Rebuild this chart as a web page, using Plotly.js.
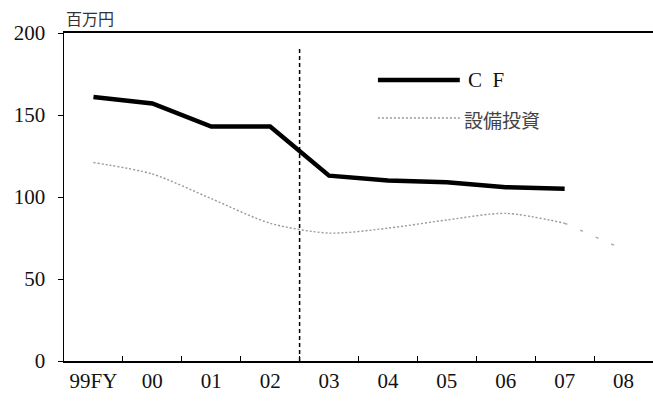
<!DOCTYPE html>
<html>
<head>
<meta charset="utf-8">
<script src="https://cdn.plot.ly/plotly-3.0.1.min.js"></script>
<style>html,body{margin:0;padding:0;background:#fff;}#chart{width:653px;height:403px;}</style>
</head>
<body>
<div id="chart"></div>
<script>
const categories = ["99FY", "00", "01", "02", "03", "04", "05", "06", "07", "08"];
const cfValues = [161, 157, 143, 143, 113, 110, 109, 106, 105, null];
const capexValues = [121, 114, 99, 84, 78, 81, 86, 90, 84, null];
const capexForecast = [null, null, null, null, null, null, null, null, 84, 68];
const yTicks = [0, 50, 100, 150, 200];
const unitLabel = "百万円";
const cfName = "C F";
const capexName = "設備投資";
const dividerAfter = "02";
const dividerTop = 191;

const serif = "Liberation Serif, DejaVu Serif, serif";
const cjk = "Noto Sans CJK JP, sans-serif";
const dividerX = categories.indexOf(dividerAfter) + 0.5;

const traces = [
  {x: categories, y: capexValues, type: "scatter", mode: "lines", name: capexName,
   line: {color: "#9a9a9a", width: 1.4, dash: "2px,2px", shape: "spline", smoothing: 0.8}, showlegend: false},
  {x: categories, y: capexForecast, type: "scatter", mode: "lines", name: capexName + "(予)",
   line: {color: "#a8a8a8", width: 1.4, dash: "3px,14px"}, showlegend: false},
  {x: categories, y: cfValues, type: "scatter", mode: "lines", name: cfName,
   line: {color: "#000", width: 4.5}, showlegend: false}
];

const layout = {
  width: 653, height: 403,
  margin: {l: 64, r: 0, t: 33, b: 42},
  paper_bgcolor: "#fff", plot_bgcolor: "#fff",
  showlegend: false,
  xaxis: {
    type: "category", range: [-0.5, 9.5], fixedrange: true,
    showline: true, linecolor: "#000", linewidth: 2, mirror: true,
    ticks: "inside", ticklen: 5, tickcolor: "#000", tickwidth: 1,
    tickson: "boundaries", showgrid: false, zeroline: false,
    tickfont: {family: serif, size: 21, color: "#111"}
  },
  yaxis: {
    range: [0, 200], tickvals: yTicks, ticktext: yTicks.map(String),
    showline: true, linecolor: "#000", linewidth: 1.5,
    ticks: "outside", ticklen: 5, tickcolor: "#000", tickwidth: 1,
    ticklabelstandoff: 8,
    showgrid: false, zeroline: false,
    tickfont: {family: serif, size: 21, color: "#111"}
  },
  shapes: [
    {type: "line", xref: "x", yref: "y", x0: dividerX, x1: dividerX,
     y0: 0, y1: dividerTop, line: {color: "#000", width: 1.5, dash: "4px,3px"}},
    {type: "line", xref: "paper", yref: "paper", x0: 0.533, x1: 0.672, y0: 0.857, y1: 0.857,
     line: {color: "#000", width: 4.5}},
    {type: "line", xref: "paper", yref: "paper", x0: 0.533, x1: 0.672, y0: 0.741, y1: 0.741,
     line: {color: "#9a9a9a", width: 1.4, dash: "2px,2px"}}
  ],
  annotations: [
    {text: unitLabel, xref: "paper", yref: "paper", x: 0.0, y: 1.0, xanchor: "left", yanchor: "bottom",
     yshift: 1, showarrow: false, font: {family: cjk, size: 16, color: "#333"}},
    {text: "C&nbsp;&nbsp;F", xref: "paper", yref: "paper", x: 0.682, y: 0.857, xanchor: "left", yanchor: "middle",
     showarrow: false, font: {family: serif, size: 21, color: "#111"}},
    {text: capexName, xref: "paper", yref: "paper", x: 0.676, y: 0.737, xanchor: "left", yanchor: "middle",
     showarrow: false, font: {family: cjk, size: 19, color: "#444"}}
  ]
};

Plotly.newPlot("chart", traces, layout, {staticPlot: true, displayModeBar: false});
</script>
</body>
</html>
